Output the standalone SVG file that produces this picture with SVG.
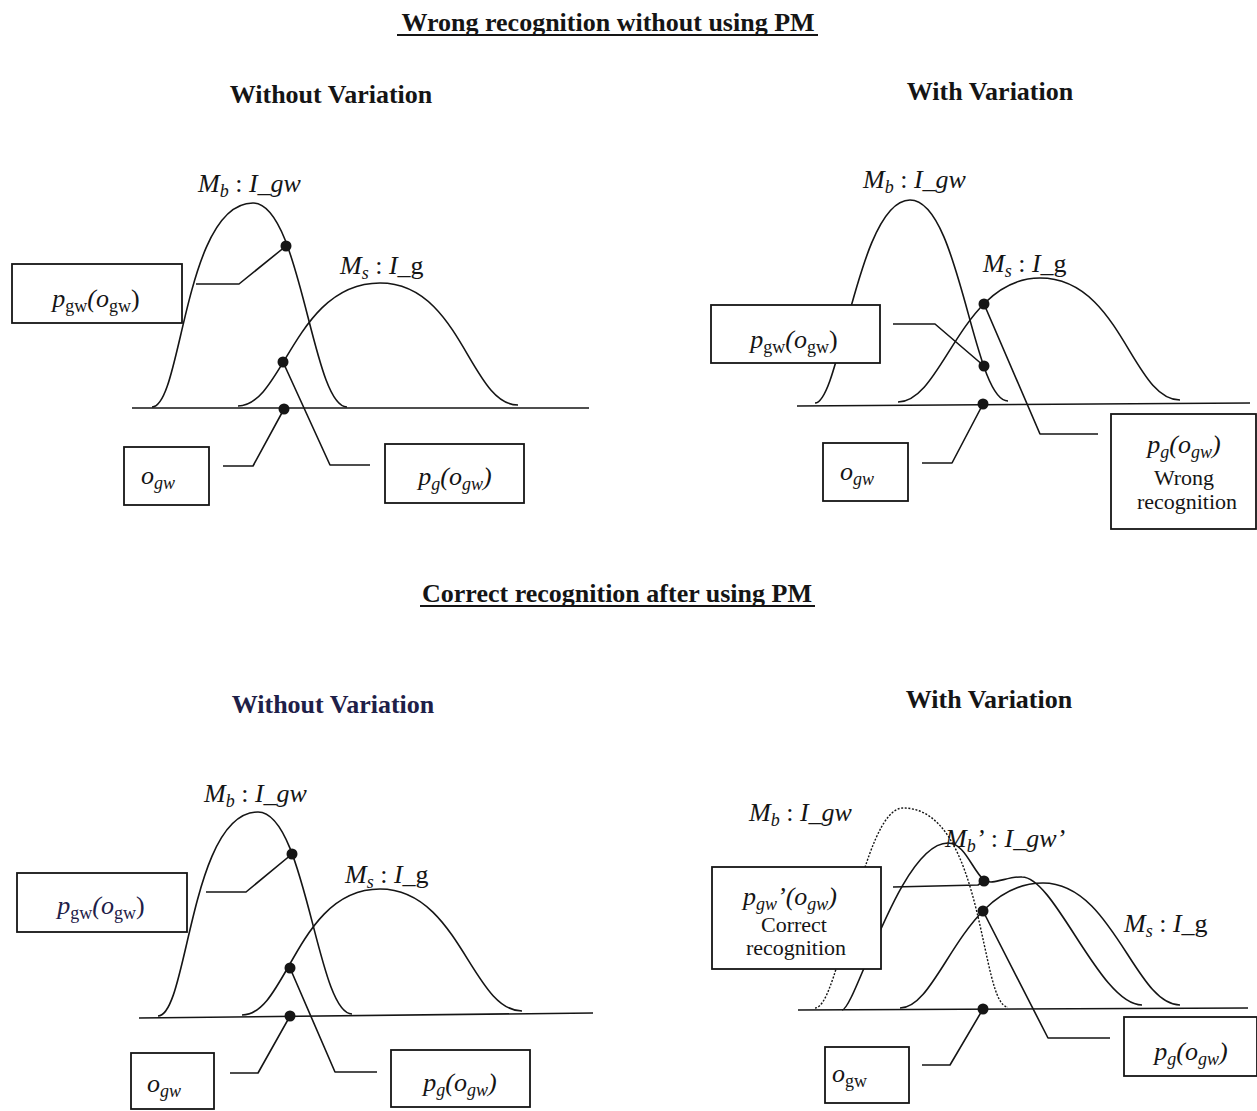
<svg xmlns="http://www.w3.org/2000/svg" width="1257" height="1111" viewBox="0 0 1257 1111">
  <style>
    .ln { fill: none; stroke: #151515; stroke-width: 1.6; stroke-linejoin: round; }
    .dash { fill: none; stroke: #151515; stroke-width: 1.4; stroke-dasharray: 2 1.6; }
    .bx { fill: #ffffff; stroke: #151515; stroke-width: 1.8; }
    .dot { fill: #151515; }
    text { font-family: "Liberation Serif", "Times New Roman", serif; fill: #151515; }
    .hd { font-size: 26px; font-weight: bold; }
    .lb { font-size: 26px; font-style: italic; }
    .fx { font-size: 26px; }
    .tx { font-size: 22px; }
    .it { font-style: italic; }
    .up { font-style: normal; }
    .sb { font-size: 18px; }
    .navy { fill: #1e2048; }
  </style>

  <rect x="0" y="0" width="1257" height="1111" fill="#ffffff"/>

  <!-- headings -->
  <g id="headings">
    <text class="hd" x="608" y="31" text-anchor="middle">Wrong recognition without using PM</text>
    <line x1="397" y1="35" x2="818" y2="35" stroke="#151515" stroke-width="2"/>
    <text class="hd" x="331" y="103" text-anchor="middle">Without Variation</text>
    <text class="hd" x="990" y="100" text-anchor="middle">With Variation</text>
    <text class="hd" x="617" y="602" text-anchor="middle">Correct recognition after using PM</text>
    <line x1="420" y1="606" x2="815" y2="606" stroke="#151515" stroke-width="2"/>
    <text class="hd navy" x="333" y="713" text-anchor="middle">Without Variation</text>
    <text class="hd" x="989" y="708" text-anchor="middle">With Variation</text>
  </g>

  <!-- panel 1: wrong recognition, without variation -->
  <g id="panel-wrong-novar">
    <g id="axis-1"><path class="ln" d="M132,408 L589,408"/></g>
    <g id="curve-mb-1">
      <path class="ln" d="M152,407 C182,407 184,203 253,203 C301,203 312,407 347,407"/>
      <text class="lb" x="198" y="192">M<tspan class="sb" dy="5">b</tspan><tspan class="up" dy="-5"> : </tspan>I_gw</text>
    </g>
    <g id="curve-ms-1">
      <path class="ln" d="M238,406 C283,406 295,283 380,283 C461,283 470,405 518,405"/>
      <text class="lb" x="340" y="274">M<tspan class="sb" dy="5">s</tspan><tspan class="up" dy="-5"> : </tspan>I_<tspan class="up">g</tspan></text>
    </g>
    <g id="box-pgw-1">
      <rect class="bx" x="12" y="264" width="170" height="59"/>
      <text class="fx" x="96" y="307" text-anchor="middle"><tspan class="it">p</tspan><tspan class="sb" dy="5">gw</tspan><tspan class="it" dy="-5">(o</tspan><tspan class="sb" dy="5">gw</tspan><tspan dy="-5">)</tspan></text>
    </g>
    <g id="box-ogw-1">
      <rect class="bx" x="124" y="447" width="85" height="58"/>
      <text class="fx it" x="141" y="484">o<tspan class="sb" dy="5">gw</tspan></text>
    </g>
    <g id="box-pg-1">
      <rect class="bx" x="385" y="444" width="139" height="59"/>
      <text class="fx it" x="455" y="485" text-anchor="middle">p<tspan class="sb" dy="5">g</tspan><tspan dy="-5">(o</tspan><tspan class="sb" dy="5">gw</tspan><tspan dy="-5">)</tspan></text>
    </g>
  </g>

  <!-- panel 2: wrong recognition, with variation -->
  <g id="panel-wrong-var">
    <g id="axis-2"><path class="ln" d="M797,406 L1250,403"/></g>
    <g id="curve-mb-2">
      <path class="ln" d="M815,403 C840,403 858,200 910,200 C960,200 973,401 1008,401"/>
      <text class="lb" x="863" y="188">M<tspan class="sb" dy="5">b</tspan><tspan class="up" dy="-5"> : </tspan>I_gw</text>
    </g>
    <g id="curve-ms-2">
      <path class="ln" d="M898,402 C943,402 961,278 1040,278 C1121,278 1132,400 1180,400"/>
      <text class="lb" x="983" y="272">M<tspan class="sb" dy="5">s</tspan><tspan class="up" dy="-5"> : </tspan>I_<tspan class="up">g</tspan></text>
    </g>
    <g id="box-pgw-2">
      <rect class="bx" x="711" y="305" width="169" height="58"/>
      <text class="fx" x="794" y="348" text-anchor="middle"><tspan class="it">p</tspan><tspan class="sb" dy="5">gw</tspan><tspan class="it" dy="-5">(o</tspan><tspan class="sb" dy="5">gw</tspan><tspan dy="-5">)</tspan></text>
    </g>
    <g id="box-ogw-2">
      <rect class="bx" x="823" y="443" width="85" height="58"/>
      <text class="fx it" x="840" y="480">o<tspan class="sb" dy="5">gw</tspan></text>
    </g>
    <g id="box-pg-wrong">
      <rect class="bx" x="1111" y="414" width="145" height="115"/>
      <text class="fx it" x="1184" y="453" text-anchor="middle">p<tspan class="sb" dy="5">g</tspan><tspan dy="-5">(o</tspan><tspan class="sb" dy="5">gw</tspan><tspan dy="-5">)</tspan></text>
      <text class="tx" x="1184" y="485" text-anchor="middle">Wrong</text>
      <text class="tx" x="1187" y="509" text-anchor="middle">recognition</text>
    </g>
  </g>

  <!-- panel 3: correct recognition, without variation -->
  <g id="panel-correct-novar">
    <g id="axis-3"><path class="ln" d="M139,1018 L593,1013"/></g>
    <g id="curve-mb-3">
      <path class="ln" d="M158,1016 C188,1016 190,812 258,812 C306,812 317,1014 352,1014"/>
      <text class="lb" x="204" y="802">M<tspan class="sb" dy="5">b</tspan><tspan class="up" dy="-5"> : </tspan>I_gw</text>
    </g>
    <g id="curve-ms-3">
      <path class="ln" d="M242,1015 C287,1015 297,889 380,889 C459,889 472,1011 522,1011"/>
      <text class="lb" x="345" y="883">M<tspan class="sb" dy="5">s</tspan><tspan class="up" dy="-5"> : </tspan>I_<tspan class="up">g</tspan></text>
    </g>
    <g id="box-pgw-3">
      <rect class="bx" x="17" y="873" width="170" height="59"/>
      <text class="fx navy" x="101" y="914" text-anchor="middle"><tspan class="it">p</tspan><tspan class="sb" dy="5">gw</tspan><tspan class="it" dy="-5">(o</tspan><tspan class="sb" dy="5">gw</tspan><tspan dy="-5">)</tspan></text>
    </g>
    <g id="box-ogw-3">
      <rect class="bx" x="131" y="1053" width="83" height="56"/>
      <text class="fx it" x="147" y="1092">o<tspan class="sb" dy="5">gw</tspan></text>
    </g>
    <g id="box-pg-3">
      <rect class="bx" x="391" y="1050" width="139" height="57"/>
      <text class="fx it" x="460" y="1091" text-anchor="middle">p<tspan class="sb" dy="5">g</tspan><tspan dy="-5">(o</tspan><tspan class="sb" dy="5">gw</tspan><tspan dy="-5">)</tspan></text>
    </g>
  </g>

  <!-- panel 4: correct recognition, with variation -->
  <g id="panel-correct-var">
    <g id="axis-4"><path class="ln" d="M798,1010 L1248,1008"/></g>
    <g id="curve-mb-4">
      <path class="dash" d="M815,1008 C840,1008 862,808 903,808 C985,808 980,1007 1008,1007"/>
      <text class="lb" x="749" y="821">M<tspan class="sb" dy="5">b</tspan><tspan class="up" dy="-5"> : </tspan>I_gw</text>
    </g>
    <g id="curve-mb-prime">
      <path class="ln" d="M842,1010 C855,1010 900,843 948,843 C965,843 972,870 984,880 C992,886 1008,876 1022,877 C1055,877 1100,1005 1142,1005"/>
      <text class="lb" x="945" y="847">M<tspan class="sb" dy="5">b</tspan><tspan dy="-5">’</tspan><tspan class="up"> : </tspan>I_gw’</text>
    </g>
    <g id="curve-ms-4">
      <path class="ln" d="M900,1008 C940,1008 962,883 1043,883 C1113,883 1135,1005 1180,1005"/>
      <text class="lb" x="1124" y="932">M<tspan class="sb" dy="5">s</tspan><tspan class="up" dy="-5"> : </tspan>I_<tspan class="up">g</tspan></text>
    </g>
    <g id="box-pgw-correct">
      <rect class="bx" x="712" y="867" width="169" height="102"/>
      <text class="fx it" x="790" y="905" text-anchor="middle">p<tspan class="sb" dy="5">gw</tspan><tspan dy="-5">’(o</tspan><tspan class="sb" dy="5">gw</tspan><tspan dy="-5">)</tspan></text>
      <text class="tx" x="794" y="932" text-anchor="middle">Correct</text>
      <text class="tx" x="796" y="955" text-anchor="middle">recognition</text>
    </g>
    <g id="box-ogw-4">
      <rect class="bx" x="825" y="1047" width="84" height="56"/>
      <text class="fx" x="832" y="1082"><tspan class="it">o</tspan><tspan class="sb" dy="5">gw</tspan></text>
    </g>
    <g id="box-pg-4">
      <rect class="bx" x="1124" y="1017" width="133" height="59"/>
      <text class="fx it" x="1191" y="1060" text-anchor="middle">p<tspan class="sb" dy="5">g</tspan><tspan dy="-5">(o</tspan><tspan class="sb" dy="5">gw</tspan><tspan dy="-5">)</tspan></text>
    </g>
  </g>

  <!-- leader lines from the boxes to the marked points -->
  <g id="connectors">
    <path class="ln" d="M196,284 H239 L286,246"/>
    <path class="ln" d="M223,466 H253 L284,409"/>
    <path class="ln" d="M283,362 L330,465 H370"/>

    <path class="ln" d="M893,324 H935 L984,366"/>
    <path class="ln" d="M922,463 H952 L983,404"/>
    <path class="ln" d="M984,304 L1040,434 H1098"/>

    <path class="ln" d="M206,892 H246 L292,854"/>
    <path class="ln" d="M230,1073 H258 L290,1016"/>
    <path class="ln" d="M290,968 L335,1072 H377"/>

    <path class="ln" d="M893,887 L978,885 L984,881"/>
    <path class="ln" d="M922,1065 H950 L983,1009"/>
    <path class="ln" d="M983,911 L1048,1038 H1110"/>
  </g>

  <!-- marked points -->
  <g id="points">
    <circle class="dot" cx="286" cy="246" r="5.5"/>
    <circle class="dot" cx="283" cy="362" r="5.5"/>
    <circle class="dot" cx="284" cy="409" r="5.5"/>
    <circle class="dot" cx="984" cy="304" r="5.5"/>
    <circle class="dot" cx="984" cy="366" r="5.5"/>
    <circle class="dot" cx="983" cy="404" r="5.5"/>
    <circle class="dot" cx="292" cy="854" r="5.5"/>
    <circle class="dot" cx="290" cy="968" r="5.5"/>
    <circle class="dot" cx="290" cy="1016" r="5.5"/>
    <circle class="dot" cx="984" cy="881" r="5.5"/>
    <circle class="dot" cx="983" cy="911" r="5.5"/>
    <circle class="dot" cx="983" cy="1009" r="5.5"/>
  </g>
</svg>
